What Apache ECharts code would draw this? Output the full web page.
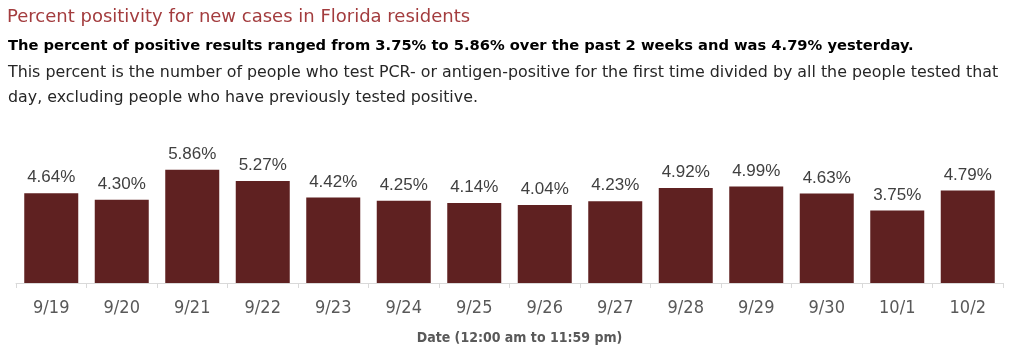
<!DOCTYPE html>
<html>
<head>
<meta charset="utf-8">
<script src="https://cdn.jsdelivr.net/npm/echarts@6/dist/echarts.min.js"></script>
<style>html,body{margin:0;padding:0;background:#fff;}#c{width:1024px;height:361px;}</style>
</head>
<body>
<div id="c"></div>
<script>
const categories = ['9/19','9/20','9/21','9/22','9/23','9/24','9/25','9/26','9/27','9/28','9/29','9/30','10/1','10/2'];
const positivity = [4.64,4.30,5.86,5.27,4.42,4.25,4.14,4.04,4.23,4.92,4.99,4.63,3.75,4.79];
const titleText = 'Percent positivity for new cases in Florida residents';
const subtitleText = 'The percent of positive results ranged from 3.75% to 5.86% over the past 2 weeks and was 4.79% yesterday.';
const descText = 'This percent is the number of people who test PCR- or antigen-positive for the first time divided by all the people tested that\nday, excluding people who have previously tested positive.';
const axisName = 'Date (12:00 am to 11:59 pm)';

const chart = echarts.init(document.getElementById('c'));
chart.setOption({
  animation: false,
  backgroundColor: '#fff',
  title: [
    {text: titleText, left: 7, top: 8, padding: 0,
     textStyle: {fontFamily: 'DejaVu Sans, sans-serif', fontSize: 18, fontWeight: 'normal', color: '#a33c3e'}},
    {text: subtitleText, left: 8, top: 39, padding: 0,
     textStyle: {fontFamily: 'DejaVu Sans, sans-serif', fontSize: 14.7, fontWeight: 'bold', color: '#000'}},
    {text: descText, left: 8, top: 60, padding: 0,
     textStyle: {fontFamily: 'DejaVu Sans, sans-serif', fontSize: 15.85, fontWeight: 'normal', color: '#262626', lineHeight: 25}}
  ],
  grid: {left: 16, right: 21, top: 167, bottom: 78},
  xAxis: {
    type: 'category',
    data: categories,
    name: axisName,
    nameLocation: 'middle',
    nameGap: 48,
    nameTextStyle: {fontFamily: 'DejaVu Sans Condensed, DejaVu Sans, sans-serif', fontSize: 14, fontWeight: 'bold', color: '#595959', padding: [0, 0, 0, 20]},
    axisLine: {lineStyle: {color: '#d9d9d9', width: 1}},
    axisTick: {show: true, alignWithLabel: false, length: 5, lineStyle: {color: '#d9d9d9'}},
    axisLabel: {margin: 16, fontFamily: 'DejaVu Sans Condensed, DejaVu Sans, sans-serif', fontSize: 18, color: '#595959'}
  },
  yAxis: {type: 'value', min: 0, max: 6, show: false, splitLine: {show: false}},
  series: [{
    type: 'bar',
    data: positivity,
    barWidth: 54,
    itemStyle: {color: '#5f2121'},
    label: {
      show: true, position: 'top', distance: 7,
      formatter: p => p.value.toFixed(2) + '%',
      fontFamily: 'Liberation Sans, Arial, sans-serif', fontSize: 17, color: '#404040'
    }
  }]
});
</script>
</body>
</html>
